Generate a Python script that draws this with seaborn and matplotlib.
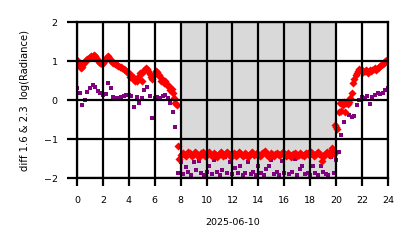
import numpy as np
import pandas as pd
import matplotlib
matplotlib.use("Agg")
import matplotlib.pyplot as plt
import seaborn as sns

# ---- data ----
red_step = 0.1
red_day = [1.02, 0.98, 0.88, 0.82, 0.86, 0.92, 0.98, 1.02, 1.05, 1.08,
           1.10, 1.12, 1.14, 1.15, 1.12, 1.08, 1.02, 0.98, 0.95, 0.92,
           0.95, 1.00, 1.05, 1.10, 1.12, 1.08, 1.02, 0.98, 0.95, 0.93,
           0.92, 0.90, 0.88, 0.86, 0.84, 0.82, 0.80, 0.78, 0.75, 0.72,
           0.66, 0.60, 0.64, 0.58, 0.52, 0.50, 0.48, 0.55, 0.62, 0.70,
           0.50, 0.72, 0.78, 0.82, 0.80, 0.74, 0.68, 0.60, 0.55, 0.62,
           0.70, 0.75, 0.72, 0.65, 0.58, 0.48, 0.52, 0.45, 0.50, 0.42,
           0.38, 0.33, 0.25, 0.28, 0.18, 0.05, -0.08, -0.13]
red_night = [-1.18, -1.50, -1.42, -1.38, -1.35, -1.40, -1.43, -1.38, -1.33, -1.36,
             -1.40, -1.44, -1.39, -1.34, -1.37, -1.42, -1.45, -1.40, -1.35, -1.32,
             -1.38, -1.43, -1.41, -1.36, -1.33, -1.39, -1.44, -1.42, -1.37, -1.40,
             -1.45, -1.41, -1.36, -1.34, -1.38, -1.43, -1.40, -1.35, -1.33, -1.38,
             -1.42, -1.46, -1.40, -1.36, -1.39, -1.43, -1.38, -1.34, -1.37, -1.41,
             -1.44, -1.40, -1.37, -1.42, -1.45, -1.41, -1.36, -1.33, -1.38, -1.42,
             -1.39, -1.35, -1.40, -1.44, -1.41, -1.37, -1.34, -1.30, -1.36, -1.42,
             -1.45, -1.40, -1.37, -1.41, -1.44, -1.39, -1.35, -1.38, -1.42, -1.40,
             -1.36, -1.33, -1.38, -1.43, -1.40, -1.37, -1.41, -1.45, -1.42, -1.38,
             -1.35, -1.39, -1.43, -1.40, -1.36, -1.38, -1.42, -1.44, -1.39, -1.35,
             -1.37, -1.41, -1.38, -1.34, -1.39, -1.43, -1.40, -1.36, -1.33, -1.38,
             -1.42, -1.55, -1.45, -1.40, -1.36, -1.32, -1.38, -1.42, -1.30, -1.22,
             -1.38, -0.64, -0.70]
red_eve = [-0.73, -0.30, -0.08, -0.28, -0.12, -0.05, -0.30, -0.08, -0.10, -0.05,
           0.05, 0.18, 0.43, 0.55, 0.64, 0.70, 0.75, 0.80, 0.78, 0.77,
           0.72, 0.75, 0.78, 0.74, 0.70, 0.77, 0.75, 0.78, 0.80, 0.82,
           0.78, 0.82, 0.85, 0.88, 0.90, 0.92, 0.95, 1.00, 1.02, 1.05]

purple_step = 0.2
purple_day = [0.30, 0.18, -0.13, 0.00, 0.20, 0.30, 0.38, 0.33, 0.22, 0.18,
              0.13, 0.15, 0.43, 0.30, 0.08, 0.05, 0.05, 0.08, 0.10, 0.13,
              0.13, 0.10, -0.18, 0.08, -0.08, 0.05, 0.25, 0.33, 0.10, -0.45,
              0.05, 0.08, 0.05, 0.10, 0.13, 0.05, -0.08, -0.30, -0.70]
purple_night = [-1.87, -1.60, -1.90, -1.72, -1.85, -1.93, -1.58, -1.80, -1.55, -1.87,
                -1.92, -1.85, -1.70, -1.90, -1.53, -1.85, -1.93, -1.80, -1.45, -1.88,
                -1.58, -1.90, -1.75, -1.88, -1.70, -1.92, -1.87, -1.60, -1.90, -1.85,
                -1.93, -1.70, -1.88, -1.92, -1.78, -1.68, -1.53, -1.90, -1.85, -1.93,
                -1.55, -1.88, -1.45, -1.90, -1.85, -1.50, -1.92, -1.78, -1.68, -1.90,
                -1.87, -1.93, -1.70, -1.88, -1.92, -1.70, -1.85, -1.90, -1.93, -1.45,
                -1.88, -1.53]
purple_eve = [-1.33, -0.90, -0.56, -0.33, -0.38, -0.43, -0.40, -0.13, 0.00, 0.08,
              0.05, 0.10, -0.10, 0.08, 0.12, 0.18, 0.15, 0.18, 0.26, 0.30]

night_start, night_end = 8, 20
x_ticks = list(range(0, 25, 2))
y_ticks = [-2, -1, 0, 1, 2]
x_label = "2025-06-10"
y_label = "diff 1.6 & 2.3  log(Radiance)"

red_v = red_day + red_night + red_eve
purple_v = purple_day + purple_night + purple_eve
red_df = pd.DataFrame({"hour": np.arange(len(red_v)) * red_step, "val": red_v})
purple_df = pd.DataFrame({"hour": np.arange(len(purple_v)) * purple_step, "val": purple_v})

# ---- plot ----
fig = plt.figure(figsize=(4.14, 2.48), dpi=100)
ax = fig.add_axes([0.186, 0.282, 0.751, 0.629])
ax.axvspan(night_start, night_end, color="#d9d9d9", zorder=0.5, lw=0)
sns.scatterplot(data=purple_df, x="hour", y="val", ax=ax, marker="s",
                color="#800080", s=8, linewidth=0, zorder=1)
sns.scatterplot(data=red_df, x="hour", y="val", ax=ax, marker="D",
                color="#ff0000", s=17, linewidth=0, zorder=1.1)

ax.set_xlim(0, 24)
ax.set_ylim(-2, 2)
ax.set_xticks(x_ticks)
ax.set_yticks(y_ticks)
ax.set_axisbelow(False)
ax.grid(True, color="black", linewidth=1.6)
for sp in ax.spines.values():
    sp.set_color("black")
    sp.set_linewidth(1.6)
ax.tick_params(axis="x", labelsize=6.8, length=6, width=1.6, color="black", pad=7)
ax.tick_params(axis="y", labelsize=6.8, length=7, width=1.6, color="black", pad=7)
ax.set_xlabel(x_label, fontsize=6.8, labelpad=9)
ax.set_ylabel(y_label, fontsize=7.2, labelpad=10)

fig.savefig("out.png", dpi=100)
